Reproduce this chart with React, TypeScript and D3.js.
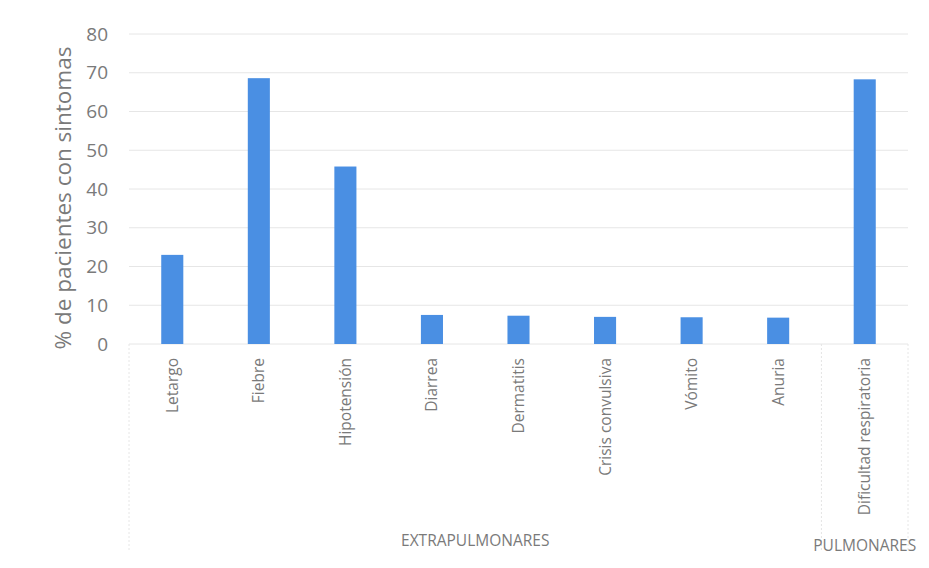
import React from "react";
import * as d3 from "d3";

const categories = [
  "Letargo",
  "Fiebre",
  "Hipotensión",
  "Diarrea",
  "Dermatitis",
  "Crisis convulsiva",
  "Vómito",
  "Anuria",
  "Dificultad respiratoria",
];
const values = [23, 68.6, 45.8, 7.5, 7.3, 7.0, 6.9, 6.8, 68.3];
const groups = ["EXTRAPULMONARES", "PULMONARES"];
const groupSizes = [8, 1];
const yTicks = [0, 10, 20, 30, 40, 50, 60, 70, 80];
const yTitle = "% de pacientes con sintomas";

const W = 929;
const H = 568;
const left = 129;
const right = 908;
const top = 34;
const bottom = 344;
const groupBottom = 550;

export default function App() {
  const x = d3.scaleBand<string>().domain(categories).range([left, right]).paddingInner(0.745).paddingOuter(0.3725);
  const y = d3.scaleLinear().domain([0, 80]).range([bottom, top]);
  const font = "Open Sans, 'Noto Sans', sans-serif";
  const textColor = "#7a7a7a";

  let start = 0;
  const groupSpans = groups.map((g, i) => {
    const x0 = left + start * ((right - left) / categories.length);
    start += groupSizes[i];
    const x1 = left + start * ((right - left) / categories.length);
    return { g, x0, x1 };
  });

  return (
    <svg width={W} height={H} style={{ position: "absolute", left: 0, top: 0, background: "#fff" }}>
      {yTicks.map((t) => (
        <g key={t}>
          <line x1={left} x2={right} y1={y(t)} y2={y(t)} stroke="#e6e6e6" strokeWidth={1} />
          <text x={108} y={y(t)} dy="0.35em" textAnchor="end" fill={textColor} fontSize={19} fontFamily={font}>
            {t}
          </text>
        </g>
      ))}
      <text
        transform={`translate(71,${(top + bottom) / 2 + 9}) rotate(-90)`}
        textAnchor="middle"
        fill={textColor}
        fontSize={22.5}
        fontFamily={font}
      >
        {yTitle}
      </text>
      {categories.map((c, i) => (
        <rect key={c} x={x(c)} y={y(values[i])} width={x.bandwidth()} height={y(0) - y(values[i])} fill="#4a8fe3" />
      ))}
      {categories.map((c) => (
        <text
          key={c}
          transform={`translate(${(x(c) as number) + x.bandwidth() / 2 + 5.5},${bottom + 14}) rotate(-90)`}
          textAnchor="end"
          fill={textColor}
          fontSize={15.5}
          fontFamily={font}
        >
          {c}
        </text>
      ))}
      {groupSpans.map(({ x0, x1 }, i) => (
        <g key={i}>
          <line x1={x0} x2={x0} y1={bottom} y2={groupBottom} stroke="#e6e6e6" strokeDasharray="2,2" />
          <line x1={x1} x2={x1} y1={bottom} y2={groupBottom} stroke="#e6e6e6" strokeDasharray="2,2" />
        </g>
      ))}
      {groupSpans.map(({ g, x0, x1 }, i) => (
        <text
          key={g}
          x={(x0 + x1) / 2}
          y={i === 0 ? 546 : 551}
          textAnchor="middle"
          fill={textColor}
          fontSize={15.5}
          fontFamily={font}
        >
          {g}
        </text>
      ))}
    </svg>
  );
}
